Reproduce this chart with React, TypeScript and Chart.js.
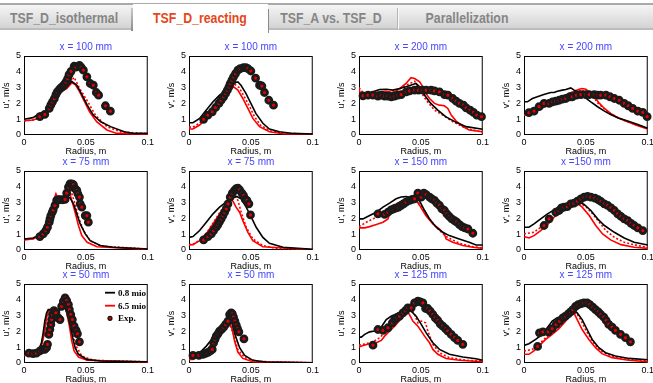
import React, { useEffect, useRef } from 'react';
import { Chart, registerables } from 'chart.js';
Chart.register(...registerables);

type P = [number, number][];

// ---------- Row 1 ----------
const u100Black: P = [[0,1.0],[0.0073,1.1],[0.0128,1.37],[0.017,1.47],[0.021,1.85],[0.025,2.5],[0.028,2.84],[0.030,3.0],[0.0345,3.05],[0.0386,3.4],[0.0427,3.15],[0.047,2.52],[0.051,1.9],[0.056,1.26],[0.062,0.84],[0.070,0.53],[0.081,0.21],[0.089,0.1],[0.1,0.1]];
const u100Red: P = [[0,0.9],[0.0073,0.95],[0.0155,1.15],[0.021,1.58],[0.025,2.2],[0.029,2.7],[0.0345,2.94],[0.0386,3.3],[0.0413,3.2],[0.045,2.73],[0.049,2.1],[0.053,1.47],[0.0587,0.84],[0.067,0.32],[0.075,0.1],[0.1,0.04]];
const u100Dot: P = [[0,0.9],[0.0073,0.95],[0.0155,1.15],[0.021,1.6],[0.025,2.25],[0.029,2.75],[0.0345,3.05],[0.0405,3.65],[0.045,2.94],[0.0508,2.2],[0.0577,1.26],[0.067,0.53],[0.078,0.2],[0.1,0.08]];
const u100Exp: P = [[0.0128,1.16],[0.0168,1.3],[0.0204,1.68],[0.0217,1.9],[0.023,2.1],[0.0245,2.3],[0.0258,2.56],[0.0269,2.73],[0.0285,2.88],[0.03,3.0],[0.0313,3.08],[0.0326,3.2],[0.034,3.36],[0.0353,3.57],[0.0364,3.82],[0.038,4.03],[0.0405,4.35],[0.042,4.3],[0.0448,4.41],[0.0462,4.28],[0.048,4.1],[0.0508,3.68],[0.0535,3.26],[0.056,3.15],[0.0584,2.69],[0.0603,2.52],[0.0658,1.85],[0.0698,1.51]];

const v100Black: P = [[0,0.78],[0.0032,0.78],[0.0086,1.05],[0.014,1.58],[0.0194,2.1],[0.0247,2.52],[0.030,2.84],[0.034,3.1],[0.0376,3.32],[0.0395,3.36],[0.042,3.15],[0.046,2.63],[0.050,2.0],[0.054,1.37],[0.0597,0.74],[0.065,0.38],[0.073,0.21],[0.084,0.1],[0.1,0.06]];
const v100Red: P = [[0,0.38],[0.0032,0.38],[0.0086,0.63],[0.014,1.05],[0.0194,1.58],[0.0247,2.1],[0.030,2.52],[0.034,2.94],[0.036,3.05],[0.0395,2.84],[0.0435,2.31],[0.0476,1.68],[0.0516,1.05],[0.057,0.53],[0.065,0.21],[0.076,0.08],[0.1,0.04]];
const v100Dot: P = [[0,0.5],[0.0032,0.5],[0.0086,0.75],[0.014,1.15],[0.0194,1.68],[0.0247,2.2],[0.030,2.65],[0.034,3.05],[0.037,3.2],[0.0405,3.0],[0.0445,2.45],[0.049,1.8],[0.053,1.15],[0.058,0.6],[0.066,0.25],[0.078,0.1],[0.1,0.05]];
const v100Exp: P = [[0.0118,0.99],[0.0153,1.26],[0.0188,1.47],[0.0215,1.74],[0.0242,2.0],[0.026,2.2],[0.028,2.42],[0.0296,2.63],[0.031,2.84],[0.0323,3.05],[0.0333,3.26],[0.0347,3.47],[0.036,3.68],[0.0376,3.89],[0.0395,4.1],[0.0414,4.2],[0.044,4.26],[0.046,4.26],[0.0476,4.2],[0.05,4.05],[0.0538,3.6],[0.057,3.15],[0.0589,3.1],[0.061,2.69],[0.0645,2.2],[0.0683,1.89]];

const u200Black: P = [[0,2.31],[0.0019,2.48],[0.0046,2.52],[0.0113,2.73],[0.0167,2.88],[0.022,2.9],[0.0274,2.84],[0.0328,2.94],[0.038,3.05],[0.0435,3.2],[0.046,3.26],[0.049,3.05],[0.053,2.52],[0.058,2.0],[0.0637,1.58],[0.070,1.16],[0.0785,0.8],[0.0866,0.53],[0.1,0.36]];
const u200Red: P = [[0,2.9],[0.0019,2.48],[0.0059,2.52],[0.0113,2.69],[0.0167,2.73],[0.022,2.77],[0.0274,2.67],[0.0328,2.94],[0.038,3.26],[0.042,3.63],[0.045,3.57],[0.049,3.36],[0.0516,3.05],[0.054,2.63],[0.057,2.31],[0.061,2.0],[0.065,1.89],[0.069,1.85],[0.0718,1.68],[0.0745,1.26],[0.0785,0.88],[0.084,0.53],[0.089,0.32],[0.1,0.21]];
const u200Dot: P = [[0,3.0],[0.0032,2.69],[0.0113,2.6],[0.0167,2.65],[0.022,2.7],[0.0274,2.75],[0.0328,2.9],[0.038,3.15],[0.045,3.4],[0.049,2.84],[0.0543,2.2],[0.061,1.58],[0.0677,1.26],[0.0758,0.84],[0.0866,0.42],[0.1,0.17]];
const u200Exp: P = [[0.0032,2.48],[0.0073,2.52],[0.0113,2.52],[0.0153,2.46],[0.018,2.52],[0.0207,2.46],[0.0234,2.46],[0.0261,2.42],[0.0288,2.46],[0.0315,2.52],[0.0341,2.56],[0.0382,2.73],[0.0409,2.79],[0.0449,2.84],[0.0481,2.84],[0.0516,2.84],[0.0543,2.84],[0.0583,2.84],[0.061,2.79],[0.065,2.73],[0.0691,2.56],[0.0718,2.52],[0.0758,2.31],[0.0785,2.14],[0.0812,2.0],[0.0844,1.89],[0.0866,1.72],[0.0898,1.58],[0.0925,1.43],[0.0952,1.26],[0.099,1.16]];

const v200Black: P = [[0,2.1],[0.0027,2.1],[0.0068,2.31],[0.0108,2.42],[0.016,2.56],[0.0216,2.69],[0.0243,2.69],[0.027,2.77],[0.031,2.84],[0.0338,2.88],[0.0378,2.98],[0.0405,2.84],[0.0438,2.73],[0.0486,2.42],[0.054,2.1],[0.0595,1.79],[0.065,1.51],[0.070,1.3],[0.0757,1.09],[0.0838,0.88],[0.092,0.67],[0.1,0.42]];
const v200Red: P = [[0,1.26],[0.004,1.3],[0.008,1.43],[0.0135,1.64],[0.019,1.89],[0.0243,2.1],[0.0297,2.31],[0.035,2.56],[0.0405,2.77],[0.0446,2.9],[0.047,2.94],[0.05,2.9],[0.0527,2.73],[0.0568,2.42],[0.061,2.0],[0.065,1.68],[0.070,1.37],[0.0757,1.09],[0.0838,0.84],[0.092,0.59],[0.1,0.38]];
const v200Dot: P = [[0,1.26],[0.004,1.3],[0.008,1.45],[0.0135,1.7],[0.019,1.95],[0.0243,2.15],[0.0297,2.35],[0.035,2.58],[0.0405,2.75],[0.046,2.85],[0.05,2.75],[0.055,2.5],[0.06,2.0],[0.065,1.65],[0.07,1.35],[0.08,0.95],[0.09,0.65],[0.1,0.42]];
const v200Exp: P = [[0.004,1.41],[0.0081,1.51],[0.0122,1.79],[0.0162,2.0],[0.0203,2.0],[0.023,2.1],[0.0257,2.14],[0.0284,2.2],[0.031,2.27],[0.0338,2.31],[0.037,2.42],[0.039,2.42],[0.0424,2.52],[0.046,2.56],[0.05,2.56],[0.0527,2.56],[0.0568,2.56],[0.0595,2.52],[0.062,2.52],[0.0662,2.52],[0.0695,2.42],[0.073,2.31],[0.077,2.2],[0.081,2.0],[0.0843,1.85],[0.0878,1.68],[0.092,1.51],[0.096,1.43],[0.0995,1.16]];

// ---------- Row 2 ----------
const u75Black: P = [[0,0.7],[0.0073,0.76],[0.0114,0.91],[0.0141,1.12],[0.0168,1.55],[0.0196,2.08],[0.0223,2.5],[0.025,2.92],[0.0277,3.14],[0.030,3.24],[0.0345,3.35],[0.0372,3.3],[0.04,2.92],[0.0427,2.29],[0.0454,1.65],[0.0495,1.02],[0.0535,0.59],[0.0617,0.28],[0.072,0.17],[0.1,0.06]];
const u75Red: P = [[0,0.64],[0.0073,0.7],[0.0128,0.91],[0.0168,1.33],[0.0196,1.86],[0.0223,2.5],[0.0245,3.24],[0.0258,3.56],[0.0269,3.35],[0.0285,3.24],[0.0318,3.14],[0.0345,3.56],[0.0367,3.67],[0.0386,3.14],[0.0413,2.39],[0.044,1.55],[0.0467,0.91],[0.051,0.49],[0.059,0.21],[0.1,0.04]];
const u75Dot: P = [[0,0.66],[0.0073,0.72],[0.0128,0.93],[0.0168,1.35],[0.0196,1.9],[0.0223,2.55],[0.0245,3.2],[0.0258,3.45],[0.0272,3.3],[0.0295,3.22],[0.0318,3.2],[0.0345,3.6],[0.0378,3.77],[0.0413,2.92],[0.044,2.08],[0.0481,1.23],[0.0535,0.59],[0.062,0.25],[0.1,0.06]];
const u75Exp: P = [[0.0128,0.85],[0.0155,1.02],[0.0177,1.23],[0.019,1.44],[0.0204,1.76],[0.021,1.97],[0.0217,2.18],[0.0228,2.39],[0.0236,2.54],[0.025,2.82],[0.0264,3.14],[0.0277,3.18],[0.029,3.18],[0.0313,3.18],[0.0332,3.2],[0.0345,3.6],[0.0359,3.98],[0.0372,4.19],[0.0386,4.19],[0.04,4.13],[0.0413,3.88],[0.0427,3.77],[0.0435,3.56],[0.0448,3.35],[0.0454,2.92],[0.0467,2.71],[0.0495,2.18],[0.0508,2.18],[0.052,1.76]];

const v75Black: P = [[0,0.8],[0.0032,0.85],[0.0086,1.23],[0.014,1.76],[0.0194,2.29],[0.0247,2.71],[0.030,3.03],[0.0355,3.3],[0.0387,3.39],[0.0422,3.24],[0.0462,2.71],[0.0503,2.08],[0.0543,1.44],[0.0597,0.8],[0.065,0.42],[0.076,0.17],[0.1,0.04]];
const v75Red: P = [[0,0.32],[0.0032,0.34],[0.0086,0.59],[0.014,1.02],[0.0194,1.65],[0.0247,2.29],[0.030,2.92],[0.0336,3.24],[0.036,3.03],[0.038,2.71],[0.0409,2.39],[0.0435,1.86],[0.0476,1.12],[0.0516,0.59],[0.0597,0.21],[0.1,0.02]];
const v75Dot: P = [[0,0.35],[0.0032,0.37],[0.0086,0.62],[0.014,1.06],[0.0194,1.7],[0.0247,2.35],[0.030,3.0],[0.036,3.56],[0.0395,3.14],[0.0422,2.39],[0.0462,1.44],[0.0516,0.7],[0.0597,0.28],[0.07,0.1],[0.1,0.03]];
const v75Exp: P = [[0.0118,0.64],[0.0153,0.85],[0.018,1.02],[0.0199,1.23],[0.022,1.44],[0.0234,1.61],[0.0247,1.8],[0.026,1.97],[0.0274,2.18],[0.0288,2.39],[0.0301,2.61],[0.0315,2.92],[0.0333,3.35],[0.035,3.6],[0.0368,3.77],[0.0382,3.88],[0.0395,3.92],[0.0409,3.81],[0.0427,3.6],[0.0441,3.45],[0.0454,3.2],[0.0468,3.14],[0.0484,2.92],[0.0497,2.22]];

const u150Black: P = [[0,1.97],[0.0032,1.97],[0.0086,2.18],[0.014,2.39],[0.0194,2.71],[0.0247,2.97],[0.030,3.24],[0.034,3.35],[0.038,3.38],[0.042,3.3],[0.046,3.3],[0.049,3.1],[0.053,2.5],[0.057,1.97],[0.0624,1.44],[0.0677,1.12],[0.073,0.91],[0.081,0.7],[0.089,0.49],[0.0946,0.32],[0.1,0.32]];
const u150Red: P = [[0,1.4],[0.0046,1.4],[0.0086,1.48],[0.014,1.61],[0.0194,1.76],[0.0234,1.97],[0.0247,2.29],[0.0274,2.71],[0.0328,3.03],[0.038,3.24],[0.042,3.28],[0.046,3.18],[0.049,2.82],[0.054,2.18],[0.0597,1.65],[0.065,1.33],[0.069,1.02],[0.0704,0.7],[0.0758,0.49],[0.084,0.28],[0.092,0.17],[0.1,0.1]];
const u150Dot: P = [[0,1.48],[0.006,1.76],[0.0113,1.97],[0.0167,2.18],[0.022,2.5],[0.0274,2.82],[0.0328,3.03],[0.0395,3.24],[0.0435,3.24],[0.0476,3.03],[0.0516,2.6],[0.057,1.97],[0.0624,1.44],[0.0704,0.85],[0.0812,0.42],[0.0919,0.21],[0.1,0.13]];
const u150Exp: P = [[0.0153,2.29],[0.0207,2.25],[0.0234,2.39],[0.026,2.54],[0.028,2.6],[0.0301,2.67],[0.032,2.71],[0.0341,2.82],[0.036,2.92],[0.038,3.03],[0.0409,3.14],[0.043,3.2],[0.0449,3.24],[0.0476,3.6],[0.0503,3.35],[0.0524,3.6],[0.0543,3.5],[0.057,3.35],[0.0589,3.24],[0.061,3.14],[0.0629,2.97],[0.065,2.82],[0.067,2.6],[0.0691,2.5],[0.071,2.29],[0.073,2.12],[0.075,1.97],[0.0772,1.86],[0.079,1.76],[0.0812,1.61],[0.0833,1.48],[0.0855,1.4],[0.088,1.33],[0.092,1.06]];

const v150Black: P = [[0,1.44],[0.004,1.44],[0.0081,1.65],[0.0135,1.97],[0.019,2.29],[0.0243,2.54],[0.0297,2.75],[0.035,2.92],[0.0405,3.03],[0.0446,3.03],[0.0486,2.88],[0.054,2.5],[0.0595,1.97],[0.065,1.55],[0.073,1.12],[0.081,0.76],[0.089,0.49],[0.1,0.32]];
const v150Red: P = [[0,0.85],[0.004,0.76],[0.0081,0.91],[0.0135,1.23],[0.019,1.61],[0.0243,2.08],[0.0297,2.39],[0.035,2.71],[0.0405,2.97],[0.043,2.97],[0.047,2.71],[0.0527,2.18],[0.058,1.55],[0.0635,1.02],[0.070,0.64],[0.0784,0.34],[0.089,0.17],[0.1,0.1]];
const v150Dot: P = [[0,1.02],[0.0081,1.12],[0.0135,1.44],[0.019,1.86],[0.0243,2.18],[0.0297,2.46],[0.035,2.71],[0.0405,2.88],[0.046,2.92],[0.05,2.75],[0.0554,2.29],[0.0608,1.76],[0.0662,1.23],[0.073,0.8],[0.081,0.49],[0.092,0.28],[0.1,0.17]];
const v150Exp: P = [[0.0162,1.55],[0.0203,1.97],[0.0257,2.39],[0.0284,2.5],[0.0303,2.67],[0.0324,2.71],[0.035,2.75],[0.0378,2.92],[0.0405,2.97],[0.0432,3.09],[0.046,3.24],[0.0486,3.35],[0.0514,3.39],[0.054,3.35],[0.0573,3.28],[0.06,3.18],[0.0622,3.07],[0.0649,2.92],[0.0676,2.82],[0.0703,2.67],[0.073,2.5],[0.0757,2.29],[0.0784,2.12],[0.081,1.97],[0.0838,1.86],[0.0865,1.69],[0.089,1.55],[0.092,1.4],[0.096,1.23]];

// ---------- Row 3 ----------
const u50Black: P = [[0,0.55],[0.0073,0.59],[0.0114,0.76],[0.0141,1.28],[0.0155,1.91],[0.0168,2.65],[0.0182,3.17],[0.0196,3.38],[0.021,3.38],[0.023,3.17],[0.025,2.86],[0.0269,2.96],[0.029,3.38],[0.0313,3.7],[0.0332,3.59],[0.035,3.17],[0.0372,2.44],[0.0394,1.6],[0.0413,0.97],[0.044,0.55],[0.0508,0.23],[0.062,0.13],[0.1,0.08]];
const u50Red: P = [[0,0.48],[0.0073,0.5],[0.0114,0.65],[0.0141,1.07],[0.0163,1.81],[0.0182,2.86],[0.0196,3.28],[0.0215,3.32],[0.0236,3.07],[0.0258,3.11],[0.0285,3.49],[0.0307,3.8],[0.0323,3.7],[0.0345,3.17],[0.0367,2.33],[0.0386,1.39],[0.0405,0.76],[0.044,0.38],[0.051,0.17],[0.1,0.06]];
const u50Dot: P = [[0,0.5],[0.0073,0.52],[0.0114,0.68],[0.0141,1.1],[0.0163,1.85],[0.0182,2.9],[0.0196,3.3],[0.0215,3.3],[0.0236,3.1],[0.0258,3.15],[0.0285,3.55],[0.0318,3.9],[0.0359,3.07],[0.0386,2.02],[0.0421,1.07],[0.0467,0.44],[0.0562,0.17],[0.1,0.07]];
const u50Exp: P = [[0.004,0.63],[0.0073,0.59],[0.01,0.63],[0.0128,0.76],[0.015,0.86],[0.0168,0.86],[0.0182,0.97],[0.019,1.18],[0.0201,1.81],[0.0209,2.12],[0.0217,2.44],[0.0223,2.75],[0.023,3.07],[0.0242,3.32],[0.0258,3.17],[0.0277,2.86],[0.0291,2.75],[0.0304,3.59],[0.0318,3.9],[0.0332,4.12],[0.0345,3.95],[0.0359,3.7],[0.0367,3.38],[0.0378,3.07],[0.0391,2.75],[0.0405,2.33],[0.0421,2.06],[0.0432,1.85],[0.0448,1.34]];

const v50Black: P = [[0,0.34],[0.0032,0.38],[0.0086,0.65],[0.014,1.07],[0.0194,1.6],[0.0247,2.12],[0.0288,2.54],[0.0315,2.75],[0.0328,2.75],[0.035,2.44],[0.0376,1.7],[0.0409,0.97],[0.045,0.48],[0.0516,0.17],[0.0624,0.06],[0.1,0.02]];
const v50Red: P = [[0,0.23],[0.0032,0.23],[0.0086,0.44],[0.014,0.76],[0.0194,1.28],[0.0247,1.91],[0.0288,2.4],[0.0315,2.65],[0.0328,2.54],[0.035,2.12],[0.0368,1.39],[0.0395,0.69],[0.0435,0.29],[0.0516,0.08],[0.1,0.02]];
const v50Dot: P = [[0,0.26],[0.0032,0.26],[0.0086,0.47],[0.014,0.8],[0.0194,1.33],[0.0247,1.97],[0.0288,2.48],[0.0315,2.75],[0.036,1.81],[0.0395,0.86],[0.045,0.34],[0.055,0.1],[0.1,0.02]];
const v50Exp: P = [[0.0032,0.48],[0.008,0.48],[0.0113,0.55],[0.0134,0.61],[0.0153,0.67],[0.0172,0.76],[0.0188,0.86],[0.0199,1.28],[0.021,1.49],[0.022,1.7],[0.0234,1.85],[0.0247,2.02],[0.0263,2.12],[0.028,2.27],[0.0296,2.44],[0.0315,2.65],[0.0328,3.07],[0.0341,3.17],[0.035,3.11],[0.036,2.9],[0.0371,2.65],[0.0382,2.4],[0.0392,2.18],[0.0403,1.97],[0.0444,1.53]];

const u125Black: P = [[0,1.64],[0.0019,1.64],[0.0046,1.81],[0.0086,1.97],[0.0126,2.02],[0.0167,2.12],[0.0194,2.44],[0.022,2.75],[0.026,2.96],[0.030,3.11],[0.0355,3.28],[0.0395,3.32],[0.0422,3.28],[0.0462,2.96],[0.0503,2.44],[0.0543,1.91],[0.0597,1.28],[0.065,0.86],[0.073,0.55],[0.0839,0.38],[0.0946,0.27],[0.1,0.17]];
const u125Red: P = [[0,1.01],[0.0032,1.11],[0.0086,1.22],[0.014,1.28],[0.018,1.43],[0.0207,1.7],[0.0247,2.02],[0.0288,2.33],[0.0328,2.69],[0.0368,3.07],[0.0395,3.24],[0.0414,2.96],[0.0435,2.65],[0.0476,2.33],[0.0503,2.02],[0.053,1.7],[0.057,1.28],[0.0597,0.86],[0.0637,0.55],[0.0704,0.29],[0.0812,0.17],[0.1,0.08]];
const u125Dot: P = [[0,1.13],[0.0059,1.22],[0.0113,1.34],[0.0167,1.6],[0.022,2.02],[0.0274,2.44],[0.0328,2.86],[0.038,3.17],[0.0422,3.45],[0.0449,3.07],[0.0476,2.54],[0.0503,2.65],[0.0538,2.54],[0.0556,2.02],[0.0597,1.18],[0.065,0.65],[0.073,0.34],[0.0866,0.17],[0.1,0.13]];
const u125Exp: P = [[0.0113,1.13],[0.0153,2.12],[0.0194,2.06],[0.0234,2.23],[0.0269,2.54],[0.0288,2.75],[0.0306,2.86],[0.0328,2.96],[0.0355,3.17],[0.0376,3.32],[0.0395,3.49],[0.0422,3.49],[0.0449,3.8],[0.0476,3.91],[0.0495,3.87],[0.0516,3.8],[0.0538,3.45],[0.0556,3.45],[0.0575,3.28],[0.0597,3.07],[0.0616,2.86],[0.0637,2.69],[0.0656,2.48],[0.0677,2.33],[0.0699,2.18],[0.0718,2.02],[0.0745,1.81],[0.0772,1.6],[0.0798,1.43],[0.0839,1.18]];

const v125Black: P = [[0,1.11],[0.004,1.22],[0.0094,1.49],[0.0148,1.81],[0.0188,2.23],[0.0228,2.65],[0.0269,2.86],[0.0309,2.96],[0.035,3.17],[0.0376,3.28],[0.0403,3.32],[0.043,3.17],[0.047,2.75],[0.051,2.12],[0.0551,1.49],[0.0605,0.97],[0.0659,0.65],[0.0739,0.44],[0.085,0.29],[0.1,0.21]];
const v125Red: P = [[0,0.55],[0.004,0.55],[0.008,0.76],[0.012,1.07],[0.0175,1.49],[0.0228,1.81],[0.0282,2.18],[0.0336,2.65],[0.0376,3.07],[0.0403,3.17],[0.043,2.75],[0.047,2.12],[0.0524,1.49],[0.0578,0.97],[0.063,0.59],[0.0712,0.34],[0.0847,0.17],[0.1,0.08]];
const v125Dot: P = [[0,0.76],[0.0067,0.86],[0.012,1.18],[0.0175,1.6],[0.0228,1.97],[0.0282,2.4],[0.0336,2.8],[0.039,3.11],[0.0422,3.17],[0.0457,2.75],[0.0497,2.12],[0.0551,1.39],[0.0605,0.86],[0.0685,0.5],[0.082,0.23],[0.1,0.13]];
const v125Exp: P = [[0.011,1.05],[0.0125,1.91],[0.0153,1.97],[0.0196,1.97],[0.0228,2.18],[0.026,2.44],[0.0288,2.65],[0.0314,2.86],[0.0336,2.96],[0.0358,3.11],[0.0376,3.24],[0.0395,3.38],[0.0417,3.59],[0.0438,3.7],[0.0462,3.76],[0.0484,3.8],[0.051,3.8],[0.0532,3.7],[0.0556,3.53],[0.0578,3.38],[0.06,3.24],[0.0621,3.07],[0.0645,2.9],[0.0664,2.69],[0.0685,2.44],[0.0712,2.27],[0.0739,2.06],[0.078,1.81],[0.082,1.6],[0.086,1.34]];

// ---------- labels ----------
const tabLabels = ['TSF_D_isothermal', 'TSF_D_reacting', 'TSF_A vs. TSF_D', 'Parallelization'];
const legendLabels = ['0.8 mio', '6.5 mio', 'Exp.'];
const xTickValues = [0, 0.05, 0.1];
const yTickValues = [0, 1, 2, 3, 4, 5];
const xAxisTitle = 'Radius, m';

const panels = [
  { title: 'x = 100 mm', ylab: "u', m/s", black: u100Black, red: u100Red, dot: u100Dot, exp: u100Exp, col: 0, row: 0 },
  { title: 'x = 100 mm', ylab: "v', m/s", black: v100Black, red: v100Red, dot: v100Dot, exp: v100Exp, col: 1, row: 0 },
  { title: 'x = 200 mm', ylab: "u', m/s", black: u200Black, red: u200Red, dot: u200Dot, exp: u200Exp, col: 2, row: 0 },
  { title: 'x = 200 mm', ylab: "v', m/s", black: v200Black, red: v200Red, dot: v200Dot, exp: v200Exp, col: 3, row: 0 },
  { title: 'x = 75 mm', ylab: "u', m/s", black: u75Black, red: u75Red, dot: u75Dot, exp: u75Exp, col: 0, row: 1 },
  { title: 'x = 75 mm', ylab: "v', m/s", black: v75Black, red: v75Red, dot: v75Dot, exp: v75Exp, col: 1, row: 1 },
  { title: 'x = 150 mm', ylab: "u', m/s", black: u150Black, red: u150Red, dot: u150Dot, exp: u150Exp, col: 2, row: 1 },
  { title: 'x =150 mm', ylab: "v', m/s", black: v150Black, red: v150Red, dot: v150Dot, exp: v150Exp, col: 3, row: 1 },
  { title: 'x = 50 mm', ylab: "u', m/s", black: u50Black, red: u50Red, dot: u50Dot, exp: u50Exp, col: 0, row: 2, legend: true },
  { title: 'x = 50 mm', ylab: "v', m/s", black: v50Black, red: v50Red, dot: v50Dot, exp: v50Exp, col: 1, row: 2 },
  { title: 'x = 125 mm', ylab: "u', m/s", black: u125Black, red: u125Red, dot: u125Dot, exp: u125Exp, col: 2, row: 2 },
  { title: 'x = 125 mm', ylab: "v', m/s", black: v125Black, red: v125Red, dot: v125Dot, exp: v125Exp, col: 3, row: 2 },
];

const FONT = "'Liberation Sans', Arial, sans-serif";
const COL_LEFT = [24, 189, 359, 524];
const ROW_TOP = [56, 171, 284];
const PLOT_W = 124, PLOT_H = 79;
const PAD_L = 24, PAD_T = 16, PAD_R = 8, PAD_B = 22;
const CW = PAD_L + PLOT_W + PAD_R;
const CH = PAD_T + PLOT_H + PAD_B;

const toXY = (a: P) => a.map(([x, y]) => ({ x, y }));
const fmtX = (v: number) => (Math.abs(v) < 1e-9 ? '0' : String(+Number(v).toFixed(2)));

function Panel({ p }: { p: any }) {
  const ref = useRef<HTMLCanvasElement>(null);
  useEffect(() => {
    const boxPlugin = {
      id: 'boxTitle',
      beforeDatasetsDraw(chart: any) {
        const { ctx, chartArea: a } = chart;
        ctx.save();
        ctx.strokeStyle = '#000';
        ctx.lineWidth = 1;
        ctx.strokeRect(a.left + 0.5, a.top + 0.5, a.right - a.left - 1, a.bottom - a.top - 1);
        ctx.restore();
      },
      afterDraw(chart: any) {
        const { ctx, chartArea: a } = chart;
        ctx.save();
        ctx.font = `10px ${FONT}`;
        ctx.fillStyle = '#4646ff';
        ctx.textAlign = 'center';
        ctx.textBaseline = 'middle';
        ctx.fillText(p.title, (a.left + a.right) / 2, a.top - 8.5);
        if (p.legend) {
          ctx.font = `bold 9px 'Liberation Serif', 'Times New Roman', serif`;
          ctx.textAlign = 'left';
          ctx.fillStyle = '#000';
          const lx0 = a.left + 81, lx1 = a.left + 91, tx = a.left + 94;
          const ys = [a.top + 8.7, a.top + 21.7, a.top + 34.3];
          ctx.lineWidth = 1.8;
          ctx.strokeStyle = '#000';
          ctx.beginPath(); ctx.moveTo(lx0, ys[0]); ctx.lineTo(lx1, ys[0]); ctx.stroke();
          ctx.strokeStyle = '#ff0000';
          ctx.beginPath(); ctx.moveTo(lx0, ys[1]); ctx.lineTo(lx1, ys[1]); ctx.stroke();
          ctx.beginPath();
          ctx.arc(a.left + 86, ys[2], 2, 0, Math.PI * 2);
          ctx.fillStyle = '#d00000';
          ctx.fill();
          ctx.lineWidth = 1.2;
          ctx.strokeStyle = '#111';
          ctx.stroke();
          ctx.fillStyle = '#000';
          legendLabels.forEach((t, i) => ctx.fillText(t, tx, ys[i] + 0.5));
        }
        ctx.restore();
      },
    };
    const tickFont = { size: 9, family: FONT };
    const chart = new Chart(ref.current as HTMLCanvasElement, {
      type: 'line',
      data: {
        datasets: [
          { data: toXY(p.exp), showLine: false, pointRadius: 3.0, pointBorderWidth: 2.8, pointBackgroundColor: '#e80000', pointBorderColor: '#1a1a1a', borderWidth: 0, clip: false } as any,
          { data: toXY(p.black), borderColor: '#000', borderWidth: 1.6, pointRadius: 0 },
          { data: toXY(p.dot), borderColor: '#ff0000', borderWidth: 1.6, borderDash: [2, 2], pointRadius: 0 },
          { data: toXY(p.red), borderColor: '#ff0000', borderWidth: 1.6, pointRadius: 0 },
        ],
      },
      options: {
        responsive: false,
        animation: false,
        events: [],
        layout: { padding: { top: PAD_T, right: PAD_R, left: 0, bottom: 0 } },
        plugins: { legend: { display: false }, tooltip: { enabled: false } },
        scales: {
          x: {
            type: 'linear', min: 0, max: 0.1,
            grid: { display: false, drawTicks: false },
            border: { display: false },
            afterBuildTicks: (s: any) => { s.ticks = xTickValues.map((v) => ({ value: v })); },
            ticks: { padding: 2, color: '#000', font: tickFont, callback: (v: any) => fmtX(Number(v)), maxRotation: 0, autoSkip: false },
            title: { display: true, text: xAxisTitle, color: '#000', font: tickFont, padding: 0 },
            afterFit: (s: any) => { s.height = PAD_B; },
          },
          y: {
            type: 'linear', min: 0, max: 5,
            grid: { display: false, drawTicks: false },
            border: { display: false },
            afterBuildTicks: (s: any) => { s.ticks = yTickValues.map((v) => ({ value: v })); },
            ticks: { padding: 3, color: '#000', font: tickFont, autoSkip: false },
            title: { display: true, text: p.ylab, color: '#000', font: tickFont, padding: { top: 1, bottom: 0 } },
            afterFit: (s: any) => { s.width = PAD_L; },
          },
        },
      } as any,
      plugins: [boxPlugin],
    });
    return () => chart.destroy();
  }, []);
  return (
    <canvas
      ref={ref}
      width={CW}
      height={CH}
      style={{ position: 'absolute', left: COL_LEFT[p.col] - PAD_L, top: ROW_TOP[p.row] - PAD_T, width: CW, height: CH }}
    />
  );
}

const tabCenters = [64, 200, 331, 467];

export default function App() {
  return (
    <div style={{ position: 'absolute', left: 0, top: 0, width: 653, height: 383, overflow: 'hidden', background: '#fff' }}>
      <div style={{ position: 'absolute', left: 0, top: 3, width: 653, height: 2, background: '#a9a9a9' }} />
      <div style={{ position: 'absolute', left: 0, top: 5, width: 653, height: 24, background: 'linear-gradient(#f5f5f5, #d2d2d2)' }} />
      <div style={{ position: 'absolute', left: 0, top: 28, width: 131, height: 2, background: '#bdbdbd' }} />
      <div style={{ position: 'absolute', left: 269, top: 28, width: 384, height: 2, background: '#bdbdbd' }} />
      <div style={{ position: 'absolute', left: 133, top: 4, width: 135, height: 29, background: '#fff' }} />
      <div style={{ position: 'absolute', left: 131, top: 8, width: 2, height: 23, background: 'linear-gradient(#c8c8c8, #8c8c8c)' }} />
      <div style={{ position: 'absolute', left: 268, top: 9, width: 1, height: 24, background: '#8a8a8a' }} />
      <div style={{ position: 'absolute', left: 397, top: 8, width: 1, height: 21, background: '#b5b5b5' }} />
      <div style={{ position: 'absolute', left: 398, top: 8, width: 1, height: 21, background: '#fafafa' }} />
      {tabLabels.map((t, i) => (
        <span
          key={t}
          style={{
            position: 'absolute',
            left: tabCenters[i],
            top: 17.5,
            transform: 'translate(-50%, -50%) scaleX(0.88)',
            whiteSpace: 'nowrap',
            font: `bold 14px ${FONT}`,
            lineHeight: '16px',
            color: i === 1 ? '#e5461a' : '#858585',
          }}
        >
          {t}
        </span>
      ))}
      {panels.map((p, i) => (
        <Panel key={i} p={p} />
      ))}
    </div>
  );
}
